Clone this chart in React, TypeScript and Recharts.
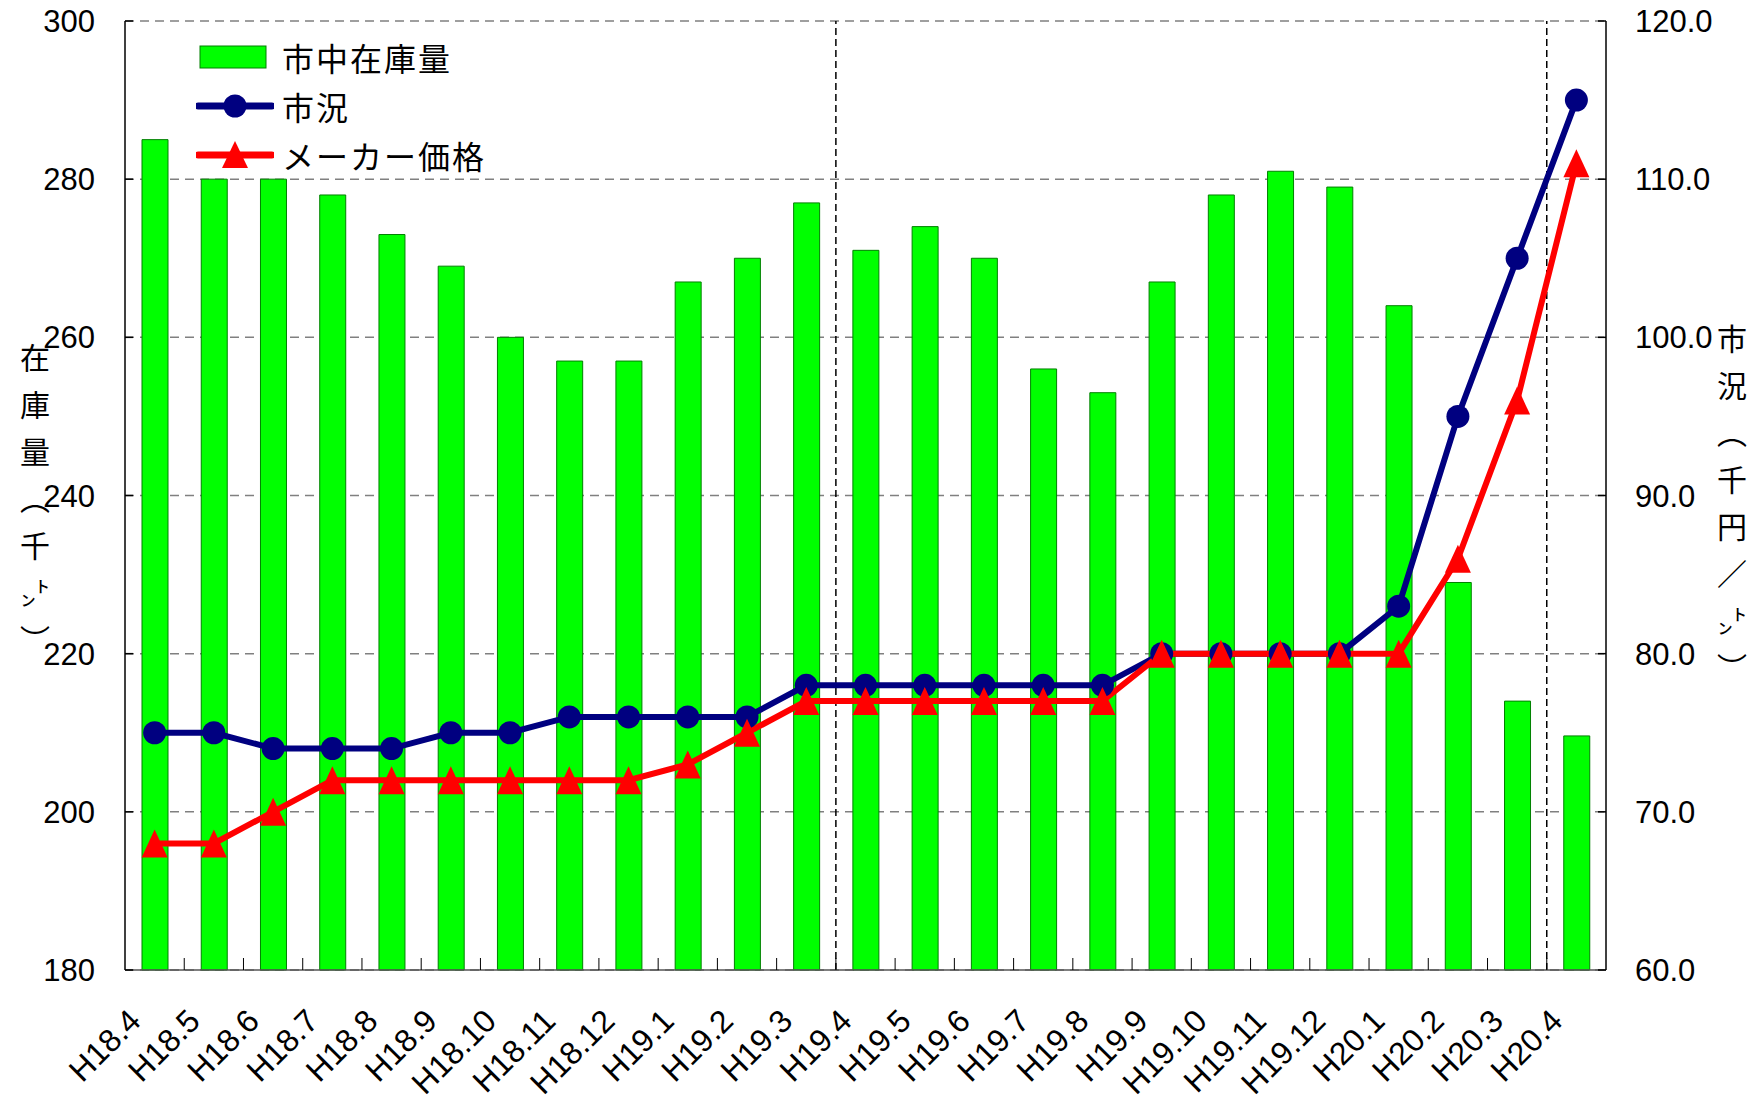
import React from 'react';
import {
  ComposedChart,
  Bar,
  Line,
  XAxis,
  YAxis,
  CartesianGrid,
  ReferenceLine,
  Legend,
  Label,
} from 'recharts';

// 年月 (平成)
const months = [
  'H18.4', 'H18.5', 'H18.6', 'H18.7', 'H18.8', 'H18.9', 'H18.10', 'H18.11', 'H18.12',
  'H19.1', 'H19.2', 'H19.3', 'H19.4', 'H19.5', 'H19.6', 'H19.7', 'H19.8', 'H19.9',
  'H19.10', 'H19.11', 'H19.12', 'H20.1', 'H20.2', 'H20.3', 'H20.4',
];

// 市中在庫量 (千トン, left axis)
const stock = [
  285, 280, 280, 278, 273, 269, 260, 257, 257,
  267, 270, 277, 271, 274, 270, 256, 253, 267,
  278, 281, 279, 264, 229, 214, 209.6,
];

// 市況 (千円/トン, right axis)
const market = [
  75, 75, 74, 74, 74, 75, 75, 76, 76,
  76, 76, 78, 78, 78, 78, 78, 78, 80,
  80, 80, 80, 83, 95, 105, 115,
];

// メーカー価格 (千円/トン, right axis)
const makerPrice = [
  68, 68, 70, 72, 72, 72, 72, 72, 72,
  73, 75, 77, 77, 77, 77, 77, 77, 80,
  80, 80, 80, 80, 86, 96, 111,
];

const leftTicks = [180, 200, 220, 240, 260, 280, 300];
const rightTicks = [60, 70, 80, 90, 100, 110, 120];
// dashed separators drawn at the left edge of these months
const dividers = ['H19.4', 'H20.4'];

const data = months.map((m, i) => ({
  month: m,
  stock: stock[i],
  market: market[i],
  maker: makerPrice[i],
}));

const FONT = "'Noto Sans CJK JP', 'Noto Sans', sans-serif";
const NUM_FONT = "'Liberation Sans', 'Noto Sans', sans-serif";
const GREEN = '#00ff00';
const NAVY = '#000080';
const RED = '#ff0000';

const CHART_W = 1763;
const CHART_H = 1107;
const LEFT_W = 125;
const RIGHT_W = 157;
const X_H = 137;
const HALF_BAND = (CHART_W - LEFT_W - RIGHT_W) / months.length / 2;

const MonthTick = (props: any) => {
  const { x, y, payload, index } = props;
  return (
    <g>
      {index > 0 && (
        <line x1={x - HALF_BAND} x2={x - HALF_BAND} y1={y} y2={y - 12} stroke="#000" strokeWidth={1} />
      )}
      <text
        transform={`translate(${x - 12},${y + 53}) rotate(-45)`}
        textAnchor="end"
        fontSize={32}
        fontFamily={NUM_FONT}
        fill="#000"
      >
        {payload.value}
      </text>
    </g>
  );
};

const Triangle = (props: any) => {
  const { cx, cy, index } = props;
  if (cx == null || cy == null) return <g key={`t-${index}`} />;
  const w = 13;
  const h = 14;
  return (
    <path
      key={`t-${index}`}
      d={`M${cx},${cy - h} L${cx + w},${cy + h} L${cx - w},${cy + h} Z`}
      fill={RED}
    />
  );
};

const VerticalLabel = (props: any) => {
  const { viewBox, text, dx, dy, spacing } = props;
  const cx = viewBox.x + dx;
  const cy = viewBox.y + viewBox.height / 2 + dy;
  return (
    <text
      x={cx}
      y={cy}
      textAnchor="middle"
      fontSize={30}
      fontFamily={FONT}
      fill="#000"
      style={{ writingMode: 'vertical-rl', letterSpacing: spacing }}
    >
      {text}
    </text>
  );
};

const LegendBox = () => {
  const row: React.CSSProperties = {
    display: 'flex',
    alignItems: 'center',
    height: 49,
  };
  const label: React.CSSProperties = {
    fontFamily: FONT,
    fontSize: 32,
    letterSpacing: 2,
    color: '#000',
    marginLeft: 8,
    whiteSpace: 'nowrap',
  };
  return (
    <div>
      <div style={row}>
        <svg width={78} height={30}>
          <rect x={4} y={4} width={66} height={22} fill={GREEN} stroke="#008000" strokeWidth={1} />
        </svg>
        <span style={label}>市中在庫量</span>
      </div>
      <div style={row}>
        <svg width={78} height={30}>
          <line x1={2} y1={15} x2={76} y2={15} stroke={NAVY} strokeWidth={7} strokeLinecap="round" />
          <circle cx={39} cy={15} r={11.5} fill={NAVY} />
        </svg>
        <span style={label}>市況</span>
      </div>
      <div style={row}>
        <svg width={78} height={30}>
          <line x1={2} y1={15} x2={76} y2={15} stroke={RED} strokeWidth={7} strokeLinecap="round" />
          <path d="M39,1 L52,28 L26,28 Z" fill={RED} />
        </svg>
        <span style={label}>メーカー価格</span>
      </div>
    </div>
  );
};

export default function App() {
  return (
    <div style={{ position: 'absolute', left: 0, top: 0, background: '#fff' }}>
      <ComposedChart
        width={CHART_W}
        height={CHART_H}
        data={data}
        margin={{ top: 21, right: 0, bottom: 0, left: 0 }}
      >
        <CartesianGrid
          xAxisId="cat"
          yAxisId="left"
          vertical={false}
          stroke="#808080"
          strokeWidth={1.5}
          strokeDasharray="9 6"
        />
        <XAxis
          xAxisId="cat"
          dataKey="month"
          type="category"
          height={X_H}
          interval={0}
          tick={<MonthTick />}
          tickLine={false}
          tickSize={0}
          tickMargin={0}
          axisLine={{ stroke: '#555', strokeWidth: 1.5 }}
        />
        <YAxis
          yAxisId="left"
          orientation="left"
          width={LEFT_W}
          domain={[180, 300]}
          ticks={leftTicks}
          interval={0}
          tickSize={-8}
          tickMargin={38}
          tick={{ fontSize: 31, fontFamily: NUM_FONT, fill: '#000' }}
          axisLine={{ stroke: '#000', strokeWidth: 1.5 }}
          tickLine={{ stroke: '#000', strokeWidth: 1.5 }}
        >
          <Label
            content={(p: any) => (
              <VerticalLabel {...p} text="在庫量（千㌧）" dx={35} dy={12} spacing={17} />
            )}
          />
        </YAxis>
        <YAxis
          yAxisId="right"
          orientation="right"
          width={RIGHT_W}
          domain={[60, 120]}
          ticks={rightTicks}
          interval={0}
          tickSize={-8}
          tickMargin={37}
          tickFormatter={(v: number) => v.toFixed(1)}
          tick={{ fontSize: 31, fontFamily: NUM_FONT, fill: '#000' }}
          axisLine={{ stroke: '#000', strokeWidth: 1.5 }}
          tickLine={{ stroke: '#000', strokeWidth: 1.5 }}
        >
          <Label
            content={(p: any) => (
              <VerticalLabel {...p} text="市況（千円／㌧）" dx={126} dy={16} spacing={17} />
            )}
          />
        </YAxis>
        {dividers.map((d) => (
          <ReferenceLine
            key={d}
            xAxisId="cat"
            yAxisId="left"
            x={d}
            position="start"
            stroke="#000"
            strokeWidth={1.5}
            strokeDasharray="7 4"
          />
        ))}
        <Bar
          xAxisId="cat"
          yAxisId="left"
          dataKey="stock"
          name="市中在庫量"
          barSize={26}
          fill={GREEN}
          stroke="#008000"
          strokeWidth={1}
          isAnimationActive={false}
        />
        <Line
          xAxisId="cat"
          yAxisId="right"
          dataKey="market"
          name="市況"
          stroke={NAVY}
          strokeWidth={6}
          dot={{ r: 11.5, fill: NAVY, stroke: NAVY, strokeWidth: 0 }}
          activeDot={false}
          isAnimationActive={false}
        />
        <Line
          xAxisId="cat"
          yAxisId="right"
          dataKey="maker"
          name="メーカー価格"
          stroke={RED}
          strokeWidth={6}
          dot={<Triangle />}
          activeDot={false}
          isAnimationActive={false}
        />
        <Legend
          layout="vertical"
          align="center"
          verticalAlign="middle"
          content={<LegendBox />}
          wrapperStyle={{ top: 32, left: 196, width: 'auto' }}
        />
      </ComposedChart>
    </div>
  );
}
